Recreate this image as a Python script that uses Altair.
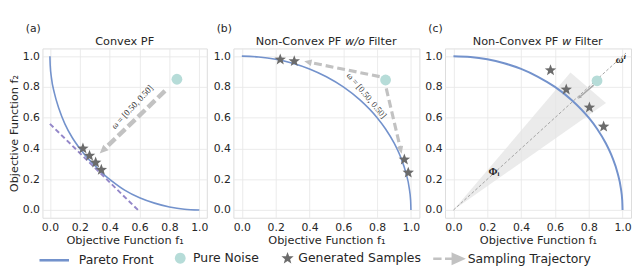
import math
import altair as alt
import pandas as pd

# ---------------- data ----------------
ticks = [0.0, 0.2, 0.4, 0.6, 0.8, 1.0]

# (a) convex Pareto front
convex_f1 = [0.0, 0.002, 0.01, 0.03, 0.06, 0.10, 0.15, 0.20, 0.25, 0.30, 0.35, 0.40, 0.50, 0.60, 0.70, 0.80, 0.90, 1.0]
convex_f2 = [1.0, 0.94, 0.86, 0.76, 0.66, 0.56, 0.47, 0.40, 0.34, 0.29, 0.24, 0.20, 0.13, 0.08, 0.045, 0.02, 0.005, 0.0]
tangent_f1 = [0.0, 0.59]
tangent_f2 = [0.56, 0.0]
stars_a_f1 = [0.221, 0.265, 0.306, 0.344]
stars_a_f2 = [0.400, 0.353, 0.308, 0.261]
noise_a = [0.85, 0.85]
arrow_a = [0.77, 0.774, 0.333, 0.367]          # x0, y0, x1, y1
label_a = [0.55, 0.67]

# (b), (c) non-convex Pareto front
nonconvex_f1 = [0.0, 0.1, 0.2, 0.3, 0.4, 0.5, 0.6, 0.7, 0.8, 0.85, 0.9, 0.94, 0.97, 0.99, 0.998, 1.0]
nonconvex_f2 = [1.0, 0.995, 0.98, 0.954, 0.917, 0.866, 0.80, 0.714, 0.60, 0.527, 0.436, 0.341, 0.243, 0.141, 0.063, 0.0]
stars_b_f1 = [0.227, 0.310, 0.961, 0.984]
stars_b_f2 = [0.978, 0.967, 0.328, 0.243]
noise_b = [0.85, 0.845]
arrows_b = [[0.815, 0.867, 0.369, 0.967], [0.854, 0.790, 0.945, 0.366]]
label_b = [0.738, 0.745]

stars_c_f1 = [0.574, 0.667, 0.804, 0.888]
stars_c_f2 = [0.908, 0.783, 0.666, 0.542]
noise_c = [0.849, 0.84]
arrow_c = [0.829, 0.812, 0.735, 0.723]
wedge_f1 = [0.0, 0.692, 0.902, 0.0]
wedge_f2 = [0.0, 0.893, 0.696, 0.0]
diag_f1 = [0.0, 1.02]
diag_f2 = [0.0, 1.02]
phi_label = [0.24, 0.245]
omega_label = [0.99, 0.972]

legend_kinds = ["Pareto Front", "Pure Noise", "Generated Samples", "Sampling Trajectory"]

# ---------------- styles ----------------
PF_BLUE = "#7392cc"
PURPLE = "#9487c9"
ARROW_GRAY = "#c2c2c2"
ARROW_GRAY_C = "#a8a8a8"
STAR_GRAY = "#6b6b6b"
NOISE = "#b6dcd8"
TXT = "#262626"
FONT = "DejaVu Sans"
SERIF = "Liberation Serif, DejaVu Serif"

WA, WB, WC, H = 167, 189, 189, 172
DOM = [-0.05, 1.05]


def star_path(cx=0.0, r=1.0, inner=0.42):
    pts = []
    for k in range(10):
        rad = r if k % 2 == 0 else r * inner
        a = math.pi / 2 + k * math.pi / 5
        pts.append((cx + rad * math.cos(a), -rad * math.sin(a)))
    return "M" + "L".join(f"{x:.3f},{y:.3f}" for x, y in pts) + "Z"


STAR = star_path()
HEAD = "M0,0L0.55,1.25L-0.55,1.25Z"


def enc_x():
    return alt.X("f1:Q", scale=alt.Scale(domain=DOM, nice=False, zero=False),
                 axis=alt.Axis(values=ticks, format=".1f", title="Objective Function f\u2081",
                               labelPadding=4, titlePadding=2, labelFlush=False))


def enc_y(with_title):
    return alt.Y("f2:Q", scale=alt.Scale(domain=DOM, nice=False, zero=False),
                 axis=alt.Axis(values=ticks, format=".1f",
                               title="Objective Function f\u2082" if with_title else None,
                               labelPadding=3, titlePadding=3, labelFlush=False))


def line_layer(xs, ys, ytitle, **mk):
    df = pd.DataFrame({"f1": xs, "f2": ys, "o": list(range(len(xs)))})
    return alt.Chart(df).mark_line(**mk).encode(x=enc_x(), y=enc_y(ytitle), order="o:Q")


def point_layer(xs, ys, ytitle, **mk):
    df = pd.DataFrame({"f1": xs, "f2": ys})
    return alt.Chart(df).mark_point(**mk).encode(x=enc_x(), y=enc_y(ytitle))


def arrow(a, W, ytitle, color, width, dash, head_scale):
    x0, y0, x1, y1 = a
    sx, sy = W / 1.1, H / 1.1
    dxp, dyp = (x1 - x0) * sx, -(y1 - y0) * sy
    L = math.hypot(dxp, dyp)
    ang = math.degrees(math.atan2(dxp, -dyp)) % 360
    frac = (L - 1.1 * head_scale) / L
    xe, ye = x0 + (x1 - x0) * frac, y0 + (y1 - y0) * frac
    mk = dict(color=color, strokeWidth=width)
    if dash:
        mk["strokeDash"] = dash
    shaft = line_layer([x0, xe], [y0, ye], ytitle, **mk)
    hdf = pd.DataFrame({"f1": [x1], "f2": [y1], "ang": [ang]})
    head = alt.Chart(hdf).mark_point(shape=HEAD, filled=True, color=color, opacity=1,
                                     size=(2 * head_scale) ** 2, strokeWidth=0).encode(
        x=enc_x(), y=enc_y(ytitle), angle=alt.Angle("ang:Q", scale=None))
    return [shaft, head]


def text_layer(pos, text, ytitle, **mk):
    df = pd.DataFrame({"f1": [pos[0]], "f2": [pos[1]]})
    return alt.Chart(df).mark_text(text=text, **mk).encode(x=enc_x(), y=enc_y(ytitle))


FS_T = 11.5
SPACE = 0.318


def title_layers(left, mid, right, W, tag):
    """Panel title: left text, italic middle word, right text; gaps are one space wide."""
    df = pd.DataFrame({"f1": [0.5], "f2": [0.5]})
    out = []
    common = dict(baseline="alphabetic", font=FONT, fontSize=FS_T, color=TXT)
    if mid is None:
        out.append(alt.Chart(df).mark_text(text=left[0], align="center", **common).encode(
            x=alt.value(W / 2), y=alt.value(-4)))
    else:
        total = left[1] + mid[1] + right[1] + 2 * SPACE
        c_mid = W / 2 + (left[1] + SPACE + mid[1] / 2 - total / 2) * FS_T
        half = (mid[1] / 2 + SPACE) * FS_T
        out.append(alt.Chart(df).mark_text(text=left[0], align="right", **common).encode(
            x=alt.value(c_mid - half), y=alt.value(-4)))
        out.append(alt.Chart(df).mark_text(text=mid[0], align="center", fontStyle="italic", **common).encode(
            x=alt.value(c_mid), y=alt.value(-4)))
        out.append(alt.Chart(df).mark_text(text=right[0], align="left", **common).encode(
            x=alt.value(c_mid + half), y=alt.value(-4)))
    out.append(alt.Chart(df).mark_text(text=tag, align="left", baseline="alphabetic",
                                       font=FONT, fontSize=11, color=TXT).encode(
        x=alt.value(-17), y=alt.value(-17)))
    return out


# ---------------- legend (shared, drawn from scale) ----------------
LEG_LINE = "M-2,0L2,0"
LEG_CIRCLE = "M0.87,0A0.73,0.73 0 1,0 2.33,0A0.73,0.73 0 1,0 0.87,0Z"
LEG_STAR = star_path(cx=1.87, r=0.87)
LEG_ARROW = "M-1.33,0L-0.2,0M0.27,0L1.4,0M1.33,-0.6L2.67,0L1.33,0.6Z"

leg = alt.Legend(orient="none", legendX=3, legendY=204, direction="horizontal", title=None)
legend_df = pd.DataFrame({"kind": legend_kinds})
legend_layer = alt.Chart(legend_df).mark_point(filled=True, opacity=1, clip=True).encode(
    x=alt.value(-400), y=alt.value(-400),
    fill=alt.Fill("kind:N", scale=alt.Scale(domain=legend_kinds,
                                            range=[PF_BLUE, NOISE, STAR_GRAY, ARROW_GRAY]), legend=leg),
    stroke=alt.Stroke("kind:N", scale=alt.Scale(domain=legend_kinds,
                                                range=[PF_BLUE, "transparent", "transparent", ARROW_GRAY]), legend=leg),
    shape=alt.Shape("kind:N", scale=alt.Scale(domain=legend_kinds,
                                              range=[LEG_LINE, LEG_CIRCLE, LEG_STAR, LEG_ARROW]), legend=leg),
)

# ---------------- panel (a) ----------------
la = [
    line_layer(convex_f1, convex_f2, True, color=PF_BLUE, strokeWidth=1.6, interpolate="monotone"),
    line_layer(tangent_f1, tangent_f2, True, color=PURPLE, strokeWidth=2, strokeDash=[5, 3]),
]
la += arrow(arrow_a, WA, True, ARROW_GRAY, 4.5, [10, 4], 7)
la += [
    point_layer([noise_a[0]], [noise_a[1]], True, shape="circle", filled=True, color=NOISE, opacity=1, size=120),
    point_layer(stars_a_f1, stars_a_f2, True, shape=STAR, filled=True, color=STAR_GRAY, opacity=1, size=150),
    text_layer(label_a, "\u03c9 = [0.50, 0.50]", True, angle=313, font=SERIF, fontSize=9, color="#333333"),
    legend_layer,
]
la += title_layers(("Convex PF", 5.239), None, None, WA, "(a)")
pa = alt.layer(*la).properties(width=WA, height=H)

# ---------------- panel (b) ----------------
lb = [line_layer(nonconvex_f1, nonconvex_f2, False, color=PF_BLUE, strokeWidth=1.6, interpolate="monotone")]
for a in arrows_b:
    lb += arrow(a, WB, False, ARROW_GRAY, 3.2, [8, 4], 6)
lb += [
    point_layer([noise_b[0]], [noise_b[1]], False, shape="circle", filled=True, color=NOISE, opacity=1, size=120),
    point_layer(stars_b_f1, stars_b_f2, False, shape=STAR, filled=True, color=STAR_GRAY, opacity=1, size=150),
    text_layer(label_b, "\u03c9 = [0.50, 0.50]", False, angle=50, font=SERIF, fontSize=9, color="#333333"),
]
lb += title_layers(("Non-Convex PF", 7.594), ("w/o", 1.767), ("Filter", 2.549), WB, "(b)")
pb = alt.layer(*lb).properties(width=WB, height=H)

# ---------------- panel (c) ----------------
lc = [
    line_layer(wedge_f1, wedge_f2, False, fill="#e4e4e4", fillOpacity=0.75, strokeOpacity=0, strokeWidth=0),
    line_layer(diag_f1, diag_f2, False, color="#9a9a9a", strokeWidth=0.9, strokeDash=[3, 2]),
    line_layer(nonconvex_f1, nonconvex_f2, False, color=PF_BLUE, strokeWidth=2, interpolate="monotone"),
]
lc += arrow(arrow_c, WC, False, ARROW_GRAY_C, 1.6, None, 3.2)
lc += [
    point_layer(stars_c_f1, stars_c_f2, False, shape=STAR, filled=True, color=STAR_GRAY, opacity=1, size=150),
    point_layer([noise_c[0]], [noise_c[1]], False, shape="circle", filled=True, color=NOISE, opacity=1, size=120),
    text_layer(phi_label, "\u03a6\u1d62", False, font=SERIF, fontSize=11, fontWeight="bold", color="#222222"),
    text_layer(omega_label, "\u03c9\u2071", False, font=SERIF, fontSize=11, fontWeight="bold",
               fontStyle="italic", color="#222222"),
]
lc += title_layers(("Non-Convex PF", 7.594), ("w", 0.818), ("Filter", 2.549), WC, "(c)")
pc = alt.layer(*lc).properties(width=WC, height=H)

chart = alt.hconcat(pa, pb, pc, spacing=4).properties(
    padding={"left": 0, "top": 12, "right": 0, "bottom": 0}
).configure_view(stroke="#dcdcdc", strokeWidth=1).configure_axis(
    grid=True, gridColor="#e8e8e8", gridWidth=0.9, ticks=False, domain=False,
    labelFont=FONT, labelFontSize=11, labelColor=TXT,
    titleFont=FONT, titleFontSize=11.5, titleFontWeight="normal", titleColor=TXT,
).configure_legend(
    symbolSize=225, symbolStrokeWidth=2.6, labelFont=FONT, labelFontSize=12.6,
    labelColor=TXT, labelOffset=16, columnPadding=6, padding=0, labelLimit=300,
)

chart.save("out.html", embed_options={"renderer": "svg", "actions": False})
